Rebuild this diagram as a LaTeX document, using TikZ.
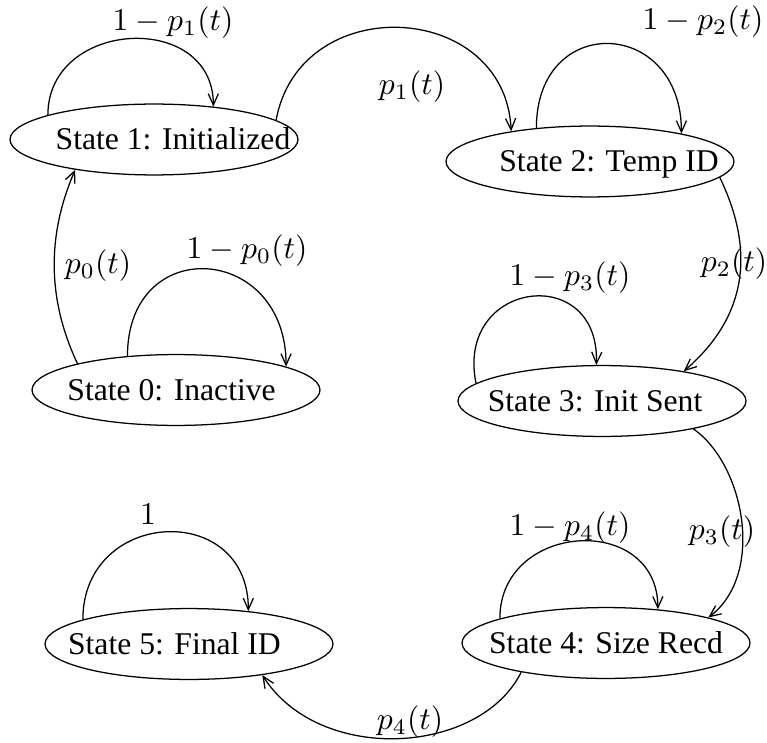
\documentclass[tikz,border=0pt]{standalone}
\usepackage{fontspec}
\setmainfont{Liberation Serif}
\usetikzlibrary{shapes.geometric,arrows.meta}
\tikzset{
  state/.style={ellipse,draw,line width=0.4pt,minimum width=91pt,minimum height=22.4pt,inner sep=0pt,text height=6.6pt,text depth=0pt,font=\fontsize{10}{12}\selectfont},
  edge/.style={draw,line width=0.4pt,-{Straight Barb[length=3.6pt,width=3.2pt]}},
  lab/.style={inner sep=0pt,font=\fontsize{10}{12}\selectfont}
}
\begin{document}
\begin{tikzpicture}[x=0.316pt,y=-0.316pt]
\useasboundingbox (0,0) rectangle (767,742);
% states
\node[state] (s1) at (154,139.5) {\makebox[0pt]{\hspace*{12pt}State 1: Initialized}};
\node[state] (s2) at (590,161.5) {\makebox[0pt]{\hspace*{12pt}State 2: Temp ID}};
\node[state] (s0) at (176,390) {\makebox[0pt]{State 0: Inactive\hspace*{2.8pt}}};
\node[state] (s3) at (602,401) {\makebox[0pt]{State 3: Init Sent\hspace*{4.4pt}}};
\node[state] (s4) at (606,643) {\makebox[0pt]{State 4: Size Recd}};
\node[state] (s5) at (189,644) {\makebox[0pt]{State 5: Final ID\hspace*{9.2pt}}};
% self loops
\draw[edge] (s1.167.6) .. controls +(0,-96) and +(0,-96) .. (s1.29);
\draw[edge] (s0.145) .. controls +(0,-123) and +(0,-123) .. (s0.12);
\draw[edge] (s2.148.6) .. controls +(0,-116) and +(0,-116) .. (s2.17.5);
\draw[edge] (s3.172) .. controls (455,280) and (600,262) .. (s3.99);
\draw[edge] (s4.167.4) .. controls +(0,-97) and +(0,-97) .. (s4.33.9);
\draw[edge] (s5.167.8) .. controls +(0,-111) and +(0,-111) .. (s5.29.1);
% transitions
\draw[edge] (s0.165) .. controls (47,299) and (47,235) .. (s1.201);
\draw[edge] (s1.9) .. controls (300,-10) and (505,0) .. (s2.159);
\draw[edge] (s2.-7.7) .. controls (750,240) and (755,310) .. (s3.20.5);
\draw[edge] (s3.-17) .. controls (745,465) and (765,575) .. (s4.14.4);
\draw[edge] (s4.-161) .. controls (480,755) and (320,765) .. (s5.-23.4);
% labels
\node[lab] (l1) at (173,23) {$1-p_1(t)$};
\node[lab] (l2) at (703,22) {$1-p_2(t)$};
\node[lab] (l3) at (412,87) {$p_1(t)$};
\node[lab] (l4) at (98,266) {$p_0(t)$};
\node[lab] (l5) at (247,251) {$1-p_0(t)$};
\node[lab] (l6) at (570,278) {$1-p_3(t)$};
\node[lab] (l7) at (734,264) {$p_2(t)$};
\node[lab] (l8) at (148,514) {$1$};
\node[lab] (l9) at (570,528) {$1-p_4(t)$};
\node[lab] (l10) at (722,532) {$p_3(t)$};
\node[lab] (l11) at (410,722) {$p_4(t)$};
\end{tikzpicture}
\end{document}
